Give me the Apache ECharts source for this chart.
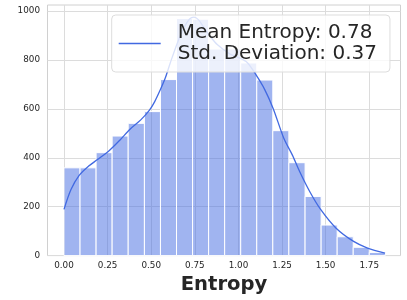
<!DOCTYPE html>
<html>
<head>
<meta charset="utf-8">
<script src="https://cdn.jsdelivr.net/npm/echarts@6/dist/echarts.min.js"></script>
<style>
html,body{margin:0;padding:0;background:#fff;}
#chart{width:407px;height:300px;}
</style>
</head>
<body>
<div id="chart"></div>
<script>
// Histogram bin edges (Entropy)
var binEdges = [0, 0.092, 0.184, 0.276, 0.368, 0.461, 0.553, 0.645, 0.737, 0.829, 0.921,
                1.013, 1.105, 1.197, 1.289, 1.382, 1.474, 1.566, 1.658, 1.750, 1.842];
// Counts per bin
var counts = [359, 359, 421, 489, 541, 589, 720, 970, 967, 845, 845, 788, 718, 511, 380, 242, 125, 77, 34, 13];
// KDE curve (scaled to counts)
var kdeX = [0.00, 0.04, 0.087, 0.14, 0.19, 0.26, 0.32, 0.38, 0.44, 0.49, 0.52, 0.55, 0.58, 0.61, 0.65, 0.69, 0.72, 0.745, 0.77,
            0.80, 0.84, 0.88, 0.95, 1.00, 1.05, 1.10, 1.15, 1.20, 1.26, 1.31, 1.35, 1.41, 1.47, 1.56, 1.66, 1.74, 1.84];
var kdeY = [189, 270, 328, 365, 392, 430, 472, 518, 555, 595, 630, 675, 725, 790, 870, 935, 968, 975, 965,
            935, 895, 862, 825, 810, 790, 740, 680, 600, 480, 410, 345, 260, 190, 112, 58, 31, 10];
var xTicks = [0, 0.25, 0.5, 0.75, 1.0, 1.25, 1.5, 1.75];
var yTicks = [0, 200, 400, 600, 800, 1000];
var legendLabel = 'Mean Entropy: 0.78\nStd. Deviation: 0.37';
var xTitle = 'Entropy';

var barData = counts.map(function (c, i) { return [binEdges[i], binEdges[i + 1], c]; });
var kdeData = kdeX.map(function (x, i) { return [x, kdeY[i]]; });

var chart = echarts.init(document.getElementById('chart'), null, {renderer: 'canvas'});
var FONT = 'DejaVu Sans';
chart.setOption({
  animation: false,
  backgroundColor: '#ffffff',
  textStyle: {fontFamily: FONT},
  grid: {left: 47.5, right: 6.5, top: 5, bottom: 42.4, show: true, borderColor: '#d0d0d0', borderWidth: 1, containLabel: false},
  xAxis: {
    type: 'value', min: -0.0946, max: 1.929,
    name: xTitle, nameLocation: 'middle', nameGap: 16,
    nameTextStyle: {fontFamily: FONT, fontWeight: 'bold', fontSize: 19.6, color: '#262626'},
    axisLine: {show: false},
    axisTick: {show: false, customValues: xTicks},
    axisLabel: {customValues: xTicks, fontFamily: FONT, fontSize: 8.8, color: '#262626', margin: 5.5,
      formatter: function (v) { return Number(v).toFixed(2); }},
    splitLine: {show: true, lineStyle: {color: '#dcdcdc', width: 1}}
  },
  yAxis: {
    type: 'value', min: 0, max: 1025,
    axisLine: {show: false},
    axisTick: {show: false, customValues: yTicks},
    axisLabel: {customValues: yTicks, fontFamily: FONT, fontSize: 8.8, color: '#262626', margin: 7.5,
      formatter: function (v) { return String(Math.round(v)); }},
    splitLine: {show: true, lineStyle: {color: '#dcdcdc', width: 1}}
  },
  legend: {
    left: 111.7, top: 15,
    padding: [7.5, 13, 7.5, 7],
    backgroundColor: 'rgba(255,255,255,0.8)',
    borderColor: '#dddddd', borderWidth: 1, borderRadius: 4,
    itemWidth: 42, itemHeight: 1.4,
    textStyle: {fontFamily: FONT, fontSize: 20, lineHeight: 21, color: '#262626', padding: [0, 0, 0, 12]},
    data: [{name: legendLabel, icon: 'rect'}]
  },
  series: [
    {
      type: 'custom',
      name: 'hist',
      data: barData,
      encode: {x: [0, 1], y: 2},
      renderItem: function (params, api) {
        var p0 = api.coord([api.value(0), api.value(2)]);
        var p1 = api.coord([api.value(1), 0]);
        return {
          type: 'rect',
          shape: {x: p0[0], y: p0[1], width: p1[0] - p0[0], height: p1[1] - p0[1]},
          style: {fill: 'rgba(65,105,225,0.5)', stroke: '#ffffff', lineWidth: 1}
        };
      },
      z: 2
    },
    {
      type: 'line',
      name: legendLabel,
      data: kdeData,
      smooth: 0.3,
      symbol: 'none',
      lineStyle: {color: '#4169E1', width: 1.3},
      itemStyle: {color: '#4169E1'},
      z: 3
    }
  ]
});
</script>
</body>
</html>
